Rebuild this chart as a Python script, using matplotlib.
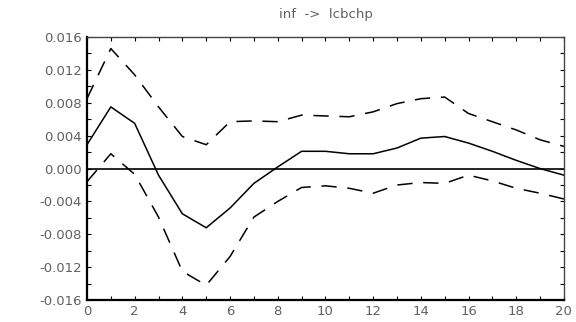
import numpy as np
import matplotlib.pyplot as plt
from matplotlib.ticker import MultipleLocator, FormatStrFormatter

# impulse response: inf -> lcbchp
horizon = list(range(21))
response = [0.0029, 0.0075, 0.0055, -0.0008, -0.0055, -0.0072, -0.0048, -0.0018,
            0.0002, 0.0021, 0.0021, 0.0018, 0.0018, 0.0025, 0.0037, 0.0039,
            0.0031, 0.0021, 0.0010, 0.0000, -0.0008]
upper = [0.0085, 0.0146, 0.0114, 0.0075, 0.0039, 0.0029, 0.0057, 0.0058,
         0.0057, 0.0065, 0.0064, 0.0063, 0.0069, 0.0079, 0.0085, 0.0087,
         0.0067, 0.0057, 0.0047, 0.0035, 0.0027]
lower = [-0.0016, 0.0018, -0.0007, -0.0059, -0.0125, -0.0142, -0.0107, -0.0059,
         -0.0040, -0.0023, -0.0021, -0.0024, -0.0030, -0.0020, -0.0017, -0.0018,
         -0.0008, -0.0015, -0.0024, -0.0030, -0.0037]

fig = plt.figure(figsize=(5.76, 3.22), dpi=100)
ax = fig.add_axes([0.151, 0.068, 0.828, 0.817])

ax.plot(horizon, response, color='black', lw=1.1)
ax.plot(horizon, upper, color='black', lw=1.1, dashes=(10, 7))
ax.plot(horizon, lower, color='black', lw=1.1, dashes=(10, 7))
ax.axhline(0, color='black', lw=1.2)

ax.set_xlim(0, 20)
ax.set_ylim(-0.016, 0.016)
ax.xaxis.set_major_locator(MultipleLocator(2))
ax.xaxis.set_minor_locator(MultipleLocator(1))
ax.yaxis.set_major_locator(MultipleLocator(0.004))
ax.yaxis.set_minor_locator(MultipleLocator(0.002))
ax.yaxis.set_major_formatter(FormatStrFormatter('%.3f'))

ax.tick_params(which='both', direction='in', top=True, right=True,
               labelsize=9.5, labelcolor='#606060', length=3, width=0.8)
for s in ['left', 'bottom']:
    ax.spines[s].set_linewidth(1.6)
for s in ['top', 'right']:
    ax.spines[s].set_linewidth(1.0)
    ax.spines[s].set_color('#444444')

ax.set_title('inf  ->  lcbchp', fontsize=9.5, color='#606060', pad=14)

fig.savefig('out.png', dpi=100)
